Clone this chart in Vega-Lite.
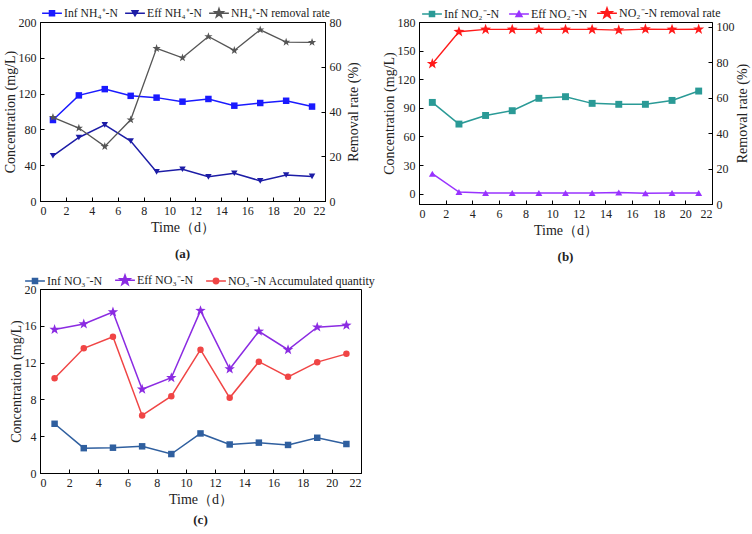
{
  "$schema": "https://vega.github.io/schema/vega-lite/v6.json",
  "padding": {"left": 2, "top": 2, "right": 2, "bottom": 2},
  "background": "white",
  "datasets": {
    "a": [
      {"series": "Inf NH₄⁺-N", "side": "L", "day": 1, "value": 90.5},
      {"series": "Inf NH₄⁺-N", "side": "L", "day": 3, "value": 118},
      {"series": "Inf NH₄⁺-N", "side": "L", "day": 5, "value": 125},
      {"series": "Inf NH₄⁺-N", "side": "L", "day": 7, "value": 117.5},
      {"series": "Inf NH₄⁺-N", "side": "L", "day": 9, "value": 115.5},
      {"series": "Inf NH₄⁺-N", "side": "L", "day": 11, "value": 111},
      {"series": "Inf NH₄⁺-N", "side": "L", "day": 13, "value": 114},
      {"series": "Inf NH₄⁺-N", "side": "L", "day": 15, "value": 106.5},
      {"series": "Inf NH₄⁺-N", "side": "L", "day": 17, "value": 109.5},
      {"series": "Inf NH₄⁺-N", "side": "L", "day": 19, "value": 112},
      {"series": "Inf NH₄⁺-N", "side": "L", "day": 21, "value": 105.5},
      {"series": "Eff NH₄⁺-N", "side": "L", "day": 1, "value": 50.5},
      {"series": "Eff NH₄⁺-N", "side": "L", "day": 3, "value": 71},
      {"series": "Eff NH₄⁺-N", "side": "L", "day": 5, "value": 85},
      {"series": "Eff NH₄⁺-N", "side": "L", "day": 7, "value": 67},
      {"series": "Eff NH₄⁺-N", "side": "L", "day": 9, "value": 32.5},
      {"series": "Eff NH₄⁺-N", "side": "L", "day": 11, "value": 35.5},
      {"series": "Eff NH₄⁺-N", "side": "L", "day": 13, "value": 27},
      {"series": "Eff NH₄⁺-N", "side": "L", "day": 15, "value": 31},
      {"series": "Eff NH₄⁺-N", "side": "L", "day": 17, "value": 22.5},
      {"series": "Eff NH₄⁺-N", "side": "L", "day": 19, "value": 29},
      {"series": "Eff NH₄⁺-N", "side": "L", "day": 21, "value": 27.5},
      {"series": "NH₄⁺-N removal rate", "side": "R", "day": 1, "value": 37.4},
      {"series": "NH₄⁺-N removal rate", "side": "R", "day": 3, "value": 32.6},
      {"series": "NH₄⁺-N removal rate", "side": "R", "day": 5, "value": 24.4},
      {"series": "NH₄⁺-N removal rate", "side": "R", "day": 7, "value": 36.3},
      {"series": "NH₄⁺-N removal rate", "side": "R", "day": 9, "value": 68.2},
      {"series": "NH₄⁺-N removal rate", "side": "R", "day": 11, "value": 64},
      {"series": "NH₄⁺-N removal rate", "side": "R", "day": 13, "value": 73.5},
      {"series": "NH₄⁺-N removal rate", "side": "R", "day": 15, "value": 67.3},
      {"series": "NH₄⁺-N removal rate", "side": "R", "day": 17, "value": 76.5},
      {"series": "NH₄⁺-N removal rate", "side": "R", "day": 19, "value": 71},
      {"series": "NH₄⁺-N removal rate", "side": "R", "day": 21, "value": 70.9}
    ],
    "b": [
      {"series": "Inf NO₂⁻-N", "side": "L", "day": 1, "value": 95.7},
      {"series": "Inf NO₂⁻-N", "side": "L", "day": 3, "value": 73},
      {"series": "Inf NO₂⁻-N", "side": "L", "day": 5, "value": 82},
      {"series": "Inf NO₂⁻-N", "side": "L", "day": 7, "value": 87},
      {"series": "Inf NO₂⁻-N", "side": "L", "day": 9, "value": 100},
      {"series": "Inf NO₂⁻-N", "side": "L", "day": 11, "value": 101.7},
      {"series": "Inf NO₂⁻-N", "side": "L", "day": 13, "value": 94.7},
      {"series": "Inf NO₂⁻-N", "side": "L", "day": 15, "value": 93.7},
      {"series": "Inf NO₂⁻-N", "side": "L", "day": 17, "value": 93.7},
      {"series": "Inf NO₂⁻-N", "side": "L", "day": 19, "value": 97.8},
      {"series": "Inf NO₂⁻-N", "side": "L", "day": 21, "value": 107.6},
      {"series": "Eff NO₂⁻-N", "side": "L", "day": 1, "value": 21},
      {"series": "Eff NO₂⁻-N", "side": "L", "day": 3, "value": 1.7},
      {"series": "Eff NO₂⁻-N", "side": "L", "day": 5, "value": 0.7},
      {"series": "Eff NO₂⁻-N", "side": "L", "day": 7, "value": 0.7},
      {"series": "Eff NO₂⁻-N", "side": "L", "day": 9, "value": 0.7},
      {"series": "Eff NO₂⁻-N", "side": "L", "day": 11, "value": 0.7},
      {"series": "Eff NO₂⁻-N", "side": "L", "day": 13, "value": 0.7},
      {"series": "Eff NO₂⁻-N", "side": "L", "day": 15, "value": 1.2},
      {"series": "Eff NO₂⁻-N", "side": "L", "day": 17, "value": 0.6},
      {"series": "Eff NO₂⁻-N", "side": "L", "day": 19, "value": 0.7},
      {"series": "Eff NO₂⁻-N", "side": "L", "day": 21, "value": 0.7},
      {"series": "NO₂⁻-N removal rate", "side": "R", "day": 1, "value": 79.2},
      {"series": "NO₂⁻-N removal rate", "side": "R", "day": 3, "value": 97.3},
      {"series": "NO₂⁻-N removal rate", "side": "R", "day": 5, "value": 98.6},
      {"series": "NO₂⁻-N removal rate", "side": "R", "day": 7, "value": 98.6},
      {"series": "NO₂⁻-N removal rate", "side": "R", "day": 9, "value": 98.6},
      {"series": "NO₂⁻-N removal rate", "side": "R", "day": 11, "value": 98.6},
      {"series": "NO₂⁻-N removal rate", "side": "R", "day": 13, "value": 98.6},
      {"series": "NO₂⁻-N removal rate", "side": "R", "day": 15, "value": 98.2},
      {"series": "NO₂⁻-N removal rate", "side": "R", "day": 17, "value": 98.8},
      {"series": "NO₂⁻-N removal rate", "side": "R", "day": 19, "value": 98.6},
      {"series": "NO₂⁻-N removal rate", "side": "R", "day": 21, "value": 98.7}
    ],
    "c": [
      {"series": "Inf NO₃⁻-N", "day": 1, "value": 5.35},
      {"series": "Inf NO₃⁻-N", "day": 3, "value": 2.7},
      {"series": "Inf NO₃⁻-N", "day": 5, "value": 2.75},
      {"series": "Inf NO₃⁻-N", "day": 7, "value": 2.9},
      {"series": "Inf NO₃⁻-N", "day": 9, "value": 2.06},
      {"series": "Inf NO₃⁻-N", "day": 11, "value": 4.3},
      {"series": "Inf NO₃⁻-N", "day": 13, "value": 3.1},
      {"series": "Inf NO₃⁻-N", "day": 15, "value": 3.3},
      {"series": "Inf NO₃⁻-N", "day": 17, "value": 3.05},
      {"series": "Inf NO₃⁻-N", "day": 19, "value": 3.83},
      {"series": "Inf NO₃⁻-N", "day": 21, "value": 3.15},
      {"series": "Eff NO₃⁻-N", "day": 1, "value": 15.6},
      {"series": "Eff NO₃⁻-N", "day": 3, "value": 16.2},
      {"series": "Eff NO₃⁻-N", "day": 5, "value": 17.5},
      {"series": "Eff NO₃⁻-N", "day": 7, "value": 9.1},
      {"series": "Eff NO₃⁻-N", "day": 9, "value": 10.35},
      {"series": "Eff NO₃⁻-N", "day": 11, "value": 17.65},
      {"series": "Eff NO₃⁻-N", "day": 13, "value": 11.3},
      {"series": "Eff NO₃⁻-N", "day": 15, "value": 15.4},
      {"series": "Eff NO₃⁻-N", "day": 17, "value": 13.4},
      {"series": "Eff NO₃⁻-N", "day": 19, "value": 15.85},
      {"series": "Eff NO₃⁻-N", "day": 21, "value": 16.05},
      {"series": "NO₃⁻-N Accumulated quantity", "day": 1, "value": 10.3},
      {"series": "NO₃⁻-N Accumulated quantity", "day": 3, "value": 13.55},
      {"series": "NO₃⁻-N Accumulated quantity", "day": 5, "value": 14.8},
      {"series": "NO₃⁻-N Accumulated quantity", "day": 7, "value": 6.26},
      {"series": "NO₃⁻-N Accumulated quantity", "day": 9, "value": 8.35},
      {"series": "NO₃⁻-N Accumulated quantity", "day": 11, "value": 13.4},
      {"series": "NO₃⁻-N Accumulated quantity", "day": 13, "value": 8.17},
      {"series": "NO₃⁻-N Accumulated quantity", "day": 15, "value": 12.1},
      {"series": "NO₃⁻-N Accumulated quantity", "day": 17, "value": 10.45},
      {"series": "NO₃⁻-N Accumulated quantity", "day": 19, "value": 12.05},
      {"series": "NO₃⁻-N Accumulated quantity", "day": 21, "value": 12.95}
    ]
  },
  "vconcat": [
    {
      "hconcat": [
        {
          "width": 285,
          "height": 179,
          "data": {"name": "a"},
          "title": {"text": "(a)", "orient": "bottom", "fontWeight": "bold", "font": "Liberation Serif", "fontSize": 13, "offset": 14},
          "encoding": {
            "x": {"field": "day", "type": "quantitative", "scale": {"domain": [0, 22], "nice": false}, "axis": {"values": [0, 2, 4, 6, 8, 10, 12, 14, 16, 18, 20, 22], "title": "Time（d）"}}
          },
          "layer": [
            {
              "transform": [{"filter": "datum.side == 'L'"}],
              "encoding": {"y": {"field": "value", "type": "quantitative", "scale": {"domain": [0, 200], "nice": false}, "axis": {"values": [0, 40, 80, 120, 160, 200], "title": "Concentration (mg/L)"}}},
              "layer": [
                {"mark": {"type": "line", "strokeWidth": 1.5}, "encoding": {"stroke": {"field": "series", "type": "nominal", "scale": {"domain": ["Inf NH₄⁺-N", "Eff NH₄⁺-N", "NH₄⁺-N removal rate"], "range": ["#1a1aff", "#1c1ca6", "#555555"]}, "legend": null}}},
                {"mark": {"type": "point", "filled": true, "opacity": 1, "strokeWidth": 0}, "encoding": {"fill": {"field": "series", "type": "nominal", "scale": {"domain": ["Inf NH₄⁺-N", "Eff NH₄⁺-N", "NH₄⁺-N removal rate"], "range": ["#1a1aff", "#1c1ca6", "#555555"]}, "legend": null}, "shape": {"field": "series", "type": "nominal", "scale": {"domain": ["Inf NH₄⁺-N", "Eff NH₄⁺-N", "NH₄⁺-N removal rate"], "range": ["square", "triangle-down", "M0,-1L0.235,-0.324L0.951,-0.309L0.38,0.124L0.588,0.809L0,0.4L-0.588,0.809L-0.38,0.124L-0.951,-0.309L-0.235,-0.324Z"]}, "legend": null}, "size": {"value": 42}}}
              ]
            },
            {
              "transform": [{"filter": "datum.side == 'R'"}],
              "encoding": {"y": {"field": "value", "type": "quantitative", "scale": {"domain": [0, 80], "nice": false}, "axis": {"orient": "right", "values": [0, 20, 40, 60, 80], "title": "Removal rate (%)", "titleAngle": 270, "titleBaseline": "top", "titlePadding": 5}}},
              "layer": [
                {"mark": {"type": "line", "strokeWidth": 1.3}, "encoding": {"stroke": {"field": "series", "type": "nominal", "scale": {"domain": ["Inf NH₄⁺-N", "Eff NH₄⁺-N", "NH₄⁺-N removal rate"], "range": ["#1a1aff", "#1c1ca6", "#555555"]}, "legend": null}}},
                {"mark": {"type": "point", "filled": true, "opacity": 1, "strokeWidth": 0}, "encoding": {"fill": {"field": "series", "type": "nominal", "scale": {"domain": ["Inf NH₄⁺-N", "Eff NH₄⁺-N", "NH₄⁺-N removal rate"], "range": ["#1a1aff", "#1c1ca6", "#555555"]}, "legend": null}, "shape": {"field": "series", "type": "nominal", "scale": {"domain": ["Inf NH₄⁺-N", "Eff NH₄⁺-N", "NH₄⁺-N removal rate"], "range": ["square", "triangle-down", "M0,-1L0.235,-0.324L0.951,-0.309L0.38,0.124L0.588,0.809L0,0.4L-0.588,0.809L-0.38,0.124L-0.951,-0.309L-0.235,-0.324Z"]}, "legend": null}, "size": {"value": 75}}}
              ]
            },
            {
              "transform": [{"filter": "datum.day < 0"}],
              "mark": {"type": "point", "filled": false, "opacity": 1, "strokeWidth": 1.5},
              "encoding": {
                "color": {"field": "series", "type": "nominal", "scale": {"domain": ["Inf NH₄⁺-N", "Eff NH₄⁺-N", "NH₄⁺-N removal rate"], "range": ["#1a1aff", "#1c1ca6", "#555555"]}, "legend": {"orient": "none", "legendX": 2, "legendY": -19, "direction": "horizontal", "title": null, "symbolSize": 324, "symbolStrokeWidth": 1.5, "labelOffset": 2, "columnPadding": 4, "labelFontSize": 11.7}},
                "shape": {"field": "series", "type": "nominal", "scale": {"domain": ["Inf NH₄⁺-N", "Eff NH₄⁺-N", "NH₄⁺-N removal rate"], "range": [
                  "M-1.1,0H1.1M-0.28,-0.28H0.28V0.28H-0.28ZM-0.18,-0.18H0.18V0.18H-0.18ZM-0.08,-0.08H0.08V0.08H-0.08Z",
                  "M-1.1,0H1.1M-0.33,-0.27H0.33L0,0.3ZM-0.198,-0.194H0.198L0,0.148ZM-0.083,-0.128H0.083L0,0.015Z",
                  "M-1.1,0H1.1M0,-0.5L0.118,-0.162L0.476,-0.155L0.19,0.062L0.294,0.405L0,0.2L-0.294,0.405L-0.19,0.062L-0.476,-0.155L-0.118,-0.162ZM0,-0.3L0.071,-0.097L0.285,-0.093L0.114,0.037L0.176,0.243L0,0.12L-0.176,0.243L-0.114,0.037L-0.285,-0.093L-0.071,-0.097ZM0,-0.12L0.028,-0.039L0.114,-0.037L0.046,0.015L0.071,0.097L0,0.048L-0.071,0.097L-0.046,0.015L-0.114,-0.037L-0.028,-0.039Z"
                ]}, "legend": {"orient": "none", "legendX": 2, "legendY": -19, "direction": "horizontal", "title": null, "symbolSize": 324, "symbolStrokeWidth": 1.5, "labelOffset": 2, "columnPadding": 4, "labelFontSize": 11.7}}
              }
            }
          ],
          "resolve": {"scale": {"y": "independent", "shape": "independent", "color": "independent"}}
        },
        {
          "width": 293,
          "height": 182,
          "data": {"name": "b"},
          "title": {"text": "(b)", "orient": "bottom", "fontWeight": "bold", "font": "Liberation Serif", "fontSize": 13, "offset": 14},
          "encoding": {
            "x": {"field": "day", "type": "quantitative", "scale": {"domain": [0, 22], "nice": false}, "axis": {"values": [0, 2, 4, 6, 8, 10, 12, 14, 16, 18, 20, 22], "title": "Time（d）"}}
          },
          "layer": [
            {
              "transform": [{"filter": "datum.side == 'L'"}],
              "encoding": {"y": {"field": "value", "type": "quantitative", "scale": {"domain": [-10.8, 180], "nice": false, "zero": false}, "axis": {"values": [0, 30, 60, 90, 120, 150, 180], "title": "Concentration (mg/L)"}}},
              "layer": [
                {"mark": {"type": "line", "strokeWidth": 1.5}, "encoding": {"stroke": {"field": "series", "type": "nominal", "scale": {"domain": ["Inf NO₂⁻-N", "Eff NO₂⁻-N", "NO₂⁻-N removal rate"], "range": ["#2a9a96", "#9933ff", "#ff1a1a"]}, "legend": null}}},
                {"mark": {"type": "point", "filled": true, "opacity": 1, "strokeWidth": 0}, "encoding": {"fill": {"field": "series", "type": "nominal", "scale": {"domain": ["Inf NO₂⁻-N", "Eff NO₂⁻-N", "NO₂⁻-N removal rate"], "range": ["#2a9a96", "#9933ff", "#ff1a1a"]}, "legend": null}, "shape": {"field": "series", "type": "nominal", "scale": {"domain": ["Inf NO₂⁻-N", "Eff NO₂⁻-N", "NO₂⁻-N removal rate"], "range": ["square", "triangle-up", "M0,-1L0.235,-0.324L0.951,-0.309L0.38,0.124L0.588,0.809L0,0.4L-0.588,0.809L-0.38,0.124L-0.951,-0.309L-0.235,-0.324Z"]}, "legend": null}, "size": {"value": 48}}}
              ]
            },
            {
              "transform": [{"filter": "datum.side == 'R'"}],
              "encoding": {"y": {"field": "value", "type": "quantitative", "scale": {"domain": [0, 102.8], "nice": false}, "axis": {"orient": "right", "values": [0, 20, 40, 60, 80, 100], "title": "Removal rate (%)", "titleAngle": 270, "titleBaseline": "top", "titlePadding": 1}}},
              "layer": [
                {"mark": {"type": "line", "strokeWidth": 1.3}, "encoding": {"stroke": {"field": "series", "type": "nominal", "scale": {"domain": ["Inf NO₂⁻-N", "Eff NO₂⁻-N", "NO₂⁻-N removal rate"], "range": ["#2a9a96", "#9933ff", "#ff1a1a"]}, "legend": null}}},
                {"mark": {"type": "point", "filled": true, "opacity": 1, "strokeWidth": 0}, "encoding": {"fill": {"field": "series", "type": "nominal", "scale": {"domain": ["Inf NO₂⁻-N", "Eff NO₂⁻-N", "NO₂⁻-N removal rate"], "range": ["#2a9a96", "#9933ff", "#ff1a1a"]}, "legend": null}, "shape": {"field": "series", "type": "nominal", "scale": {"domain": ["Inf NO₂⁻-N", "Eff NO₂⁻-N", "NO₂⁻-N removal rate"], "range": ["square", "triangle-up", "M0,-1L0.235,-0.324L0.951,-0.309L0.38,0.124L0.588,0.809L0,0.4L-0.588,0.809L-0.38,0.124L-0.951,-0.309L-0.235,-0.324Z"]}, "legend": null}, "size": {"value": 135}}}
              ]
            },
            {
              "transform": [{"filter": "datum.day < 0"}],
              "mark": {"type": "point", "filled": false, "opacity": 1, "strokeWidth": 1.5},
              "encoding": {
                "color": {"field": "series", "type": "nominal", "scale": {"domain": ["Inf NO₂⁻-N", "Eff NO₂⁻-N", "NO₂⁻-N removal rate"], "range": ["#2a9a96", "#9933ff", "#ff1a1a"]}, "legend": {"orient": "none", "legendX": 3, "legendY": -19, "direction": "horizontal", "title": null, "symbolSize": 324, "symbolStrokeWidth": 1.5, "labelOffset": 2, "columnPadding": 6}},
                "shape": {"field": "series", "type": "nominal", "scale": {"domain": ["Inf NO₂⁻-N", "Eff NO₂⁻-N", "NO₂⁻-N removal rate"], "range": [
                  "M-1.1,0H1.1M-0.28,-0.28H0.28V0.28H-0.28ZM-0.18,-0.18H0.18V0.18H-0.18ZM-0.08,-0.08H0.08V0.08H-0.08Z",
                  "M-1.1,0H1.1M-0.33,0.27H0.33L0,-0.3ZM-0.198,0.194H0.198L0,-0.148ZM-0.083,0.128H0.083L0,-0.015Z",
                  "M-1.1,0H1.1M0,-0.6L0.141,-0.194L0.571,-0.185L0.228,0.074L0.353,0.485L0,0.24L-0.353,0.485L-0.228,0.074L-0.571,-0.185L-0.141,-0.194ZM0,-0.4L0.094,-0.13L0.38,-0.124L0.152,0.05L0.235,0.324L0,0.16L-0.235,0.324L-0.152,0.05L-0.38,-0.124L-0.094,-0.13ZM0,-0.2L0.047,-0.065L0.19,-0.062L0.076,0.025L0.118,0.162L0,0.08L-0.118,0.162L-0.076,0.025L-0.19,-0.062L-0.047,-0.065Z"
                ]}, "legend": {"orient": "none", "legendX": 3, "legendY": -19, "direction": "horizontal", "title": null, "symbolSize": 324, "symbolStrokeWidth": 1.5, "labelOffset": 2, "columnPadding": 6}}
              }
            }
          ],
          "resolve": {"scale": {"y": "independent", "shape": "independent", "color": "independent"}}
        }
      ],
      "spacing": 94,
      "bounds": "flush",
      "resolve": {"scale": {"color": "independent", "shape": "independent", "fill": "independent", "stroke": "independent"}}
    },
    {
      "width": 321,
      "height": 184,
      "data": {"name": "c"},
      "title": {"text": "(c)", "orient": "bottom", "fontWeight": "bold", "font": "Liberation Serif", "fontSize": 13, "offset": 8},
      "encoding": {
        "x": {"field": "day", "type": "quantitative", "scale": {"domain": [0, 22], "nice": false}, "axis": {"values": [0, 2, 4, 6, 8, 10, 12, 14, 16, 18, 20, 22], "title": "Time（d）"}},
        "y": {"field": "value", "type": "quantitative", "scale": {"domain": [0, 20], "nice": false}, "axis": {"values": [0, 4, 8, 12, 16, 20], "title": "Concentration (mg/L)"}}
      },
      "layer": [
        {"mark": {"type": "line", "strokeWidth": 1.5}, "encoding": {"stroke": {"field": "series", "type": "nominal", "scale": {"domain": ["Inf NO₃⁻-N", "Eff NO₃⁻-N", "NO₃⁻-N Accumulated quantity"], "range": ["#2f5f9f", "#8b2be2", "#f04545"]}, "legend": null}}},
        {"mark": {"type": "point", "filled": true, "opacity": 1, "strokeWidth": 0}, "encoding": {"fill": {"field": "series", "type": "nominal", "scale": {"domain": ["Inf NO₃⁻-N", "Eff NO₃⁻-N", "NO₃⁻-N Accumulated quantity"], "range": ["#2f5f9f", "#8b2be2", "#f04545"]}, "legend": null}, "shape": {"field": "series", "type": "nominal", "scale": {"domain": ["Inf NO₃⁻-N", "Eff NO₃⁻-N", "NO₃⁻-N Accumulated quantity"], "range": ["square", "M0,-1L0.235,-0.324L0.951,-0.309L0.38,0.124L0.588,0.809L0,0.4L-0.588,0.809L-0.38,0.124L-0.951,-0.309L-0.235,-0.324Z", "circle"]}, "legend": null}, "size": {"condition": {"test": "datum.series == 'Eff NO₃⁻-N'", "value": 120}, "value": 42}}},
        {
          "transform": [{"filter": "datum.day < 0"}],
          "mark": {"type": "point", "filled": false, "opacity": 1, "strokeWidth": 1.5},
          "encoding": {
            "color": {"field": "series", "type": "nominal", "scale": {"domain": ["Inf NO₃⁻-N", "Eff NO₃⁻-N", "NO₃⁻-N Accumulated quantity"], "range": ["#2f5f9f", "#8b2be2", "#f04545"]}, "legend": {"orient": "none", "legendX": -15, "legendY": -19, "direction": "horizontal", "title": null, "symbolSize": 324, "symbolStrokeWidth": 1.5, "labelOffset": 2, "columnPadding": 9}},
            "shape": {"field": "series", "type": "nominal", "scale": {"domain": ["Inf NO₃⁻-N", "Eff NO₃⁻-N", "NO₃⁻-N Accumulated quantity"], "range": [
              "M-1.1,0H1.1M-0.28,-0.28H0.28V0.28H-0.28ZM-0.18,-0.18H0.18V0.18H-0.18ZM-0.08,-0.08H0.08V0.08H-0.08Z",
              "M-1.1,0H1.1M0,-0.6L0.141,-0.194L0.571,-0.185L0.228,0.074L0.353,0.485L0,0.24L-0.353,0.485L-0.228,0.074L-0.571,-0.185L-0.141,-0.194ZM0,-0.4L0.094,-0.13L0.38,-0.124L0.152,0.05L0.235,0.324L0,0.16L-0.235,0.324L-0.152,0.05L-0.38,-0.124L-0.094,-0.13ZM0,-0.2L0.047,-0.065L0.19,-0.062L0.076,0.025L0.118,0.162L0,0.08L-0.118,0.162L-0.076,0.025L-0.19,-0.062L-0.047,-0.065Z",
              "M-1.1,0H1.1M-0.3,0A0.3,0.3 0 1,0 0.3,0A0.3,0.3 0 1,0 -0.3,0ZM-0.2,0A0.2,0.2 0 1,0 0.2,0A0.2,0.2 0 1,0 -0.2,0ZM-0.1,0A0.1,0.1 0 1,0 0.1,0A0.1,0.1 0 1,0 -0.1,0Z"
            ]}, "legend": {"orient": "none", "legendX": -15, "legendY": -19, "direction": "horizontal", "title": null, "symbolSize": 324, "symbolStrokeWidth": 1.5, "labelOffset": 2, "columnPadding": 9}}
          }
        }
      ],
      "resolve": {"scale": {"shape": "independent", "color": "independent"}}
    }
  ],
  "spacing": 4,
  "resolve": {"scale": {"color": "independent", "shape": "independent", "fill": "independent", "stroke": "independent"}},
  "config": {
    "font": "Liberation Serif",
    "view": {"stroke": "#000", "strokeWidth": 1},
    "axis": {"labelFont": "Liberation Serif", "labelFontSize": 12, "labelColor": "#222", "titleFont": "Liberation Serif", "titleFontSize": 14, "titleFontWeight": "normal", "titleColor": "#222", "domainColor": "#000", "tickColor": "#000", "tickSize": -4, "labelPadding": 8, "grid": false, "titlePadding": 4},
    "axisLeft": {"titlePadding": 1},
    "legend": {"labelFont": "Liberation Serif", "labelFontSize": 12, "labelColor": "#222"},
    "title": {"color": "#222"}
  }
}
